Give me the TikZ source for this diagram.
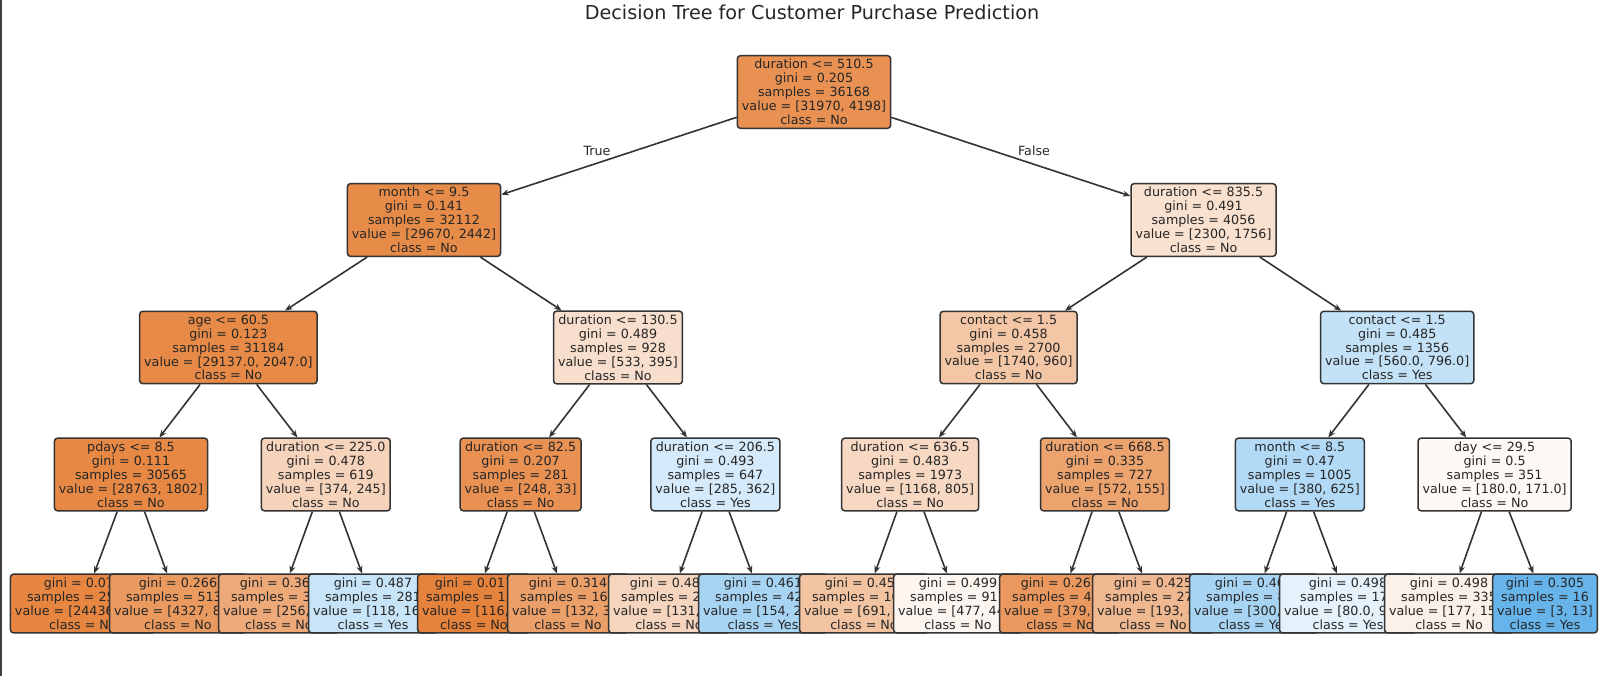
\documentclass[tikz,border=0pt]{standalone}
\usepackage{fontspec}
\setmainfont{DejaVu Sans}
\usetikzlibrary{arrows.meta}

\definecolor{clsno}{RGB}{229,129,57}
\definecolor{clsyes}{RGB}{57,157,229}
\definecolor{edgegray}{RGB}{51,51,51}

\tikzset{
  split/.style={draw=edgegray, line width=1.5pt, rounded corners=3pt, align=center,
    inner xsep=4.5pt, inner ysep=3.6pt, text=black!85,
    font=\fontsize{12.7}{13.9}\selectfont},
  branch/.style={draw=edgegray, line width=1.6pt, -{Stealth[length=7.5pt,width=6pt]}},
  side/.style={text=black!85, font=\fontsize{12.7}{13.9}\selectfont},
}

\begin{document}
\begin{tikzpicture}[x=1pt,y=-1pt]

  \useasboundingbox (0,0) rectangle (1600,676);
  \fill[black!75] (0,0) rectangle (2,676);

  \node[font=\fontsize{19.2}{22}\selectfont, text=black!85] (title) at (812,12.5) {Decision Tree for Customer Purchase Prediction};

  % root and splits
  \node[split, fill=clsno!87!white] (n0) at (814,92) {duration <= 510.5\\gini = 0.205\\samples = 36168\\value = [31970, 4198]\\class = No};

  \node[split, fill=clsno!92!white] (n1) at (424,220) {month <= 9.5\\gini = 0.141\\samples = 32112\\value = [29670, 2442]\\class = No};
  \node[split, fill=clsno!24!white] (n2) at (1203.5,220) {duration <= 835.5\\gini = 0.491\\samples = 4056\\value = [2300, 1756]\\class = No};

  \node[split, fill=clsno!93!white] (n3) at (228.4,347.5) {age <= 60.5\\gini = 0.123\\samples = 31184\\value = [29137.0, 2047.0]\\class = No};
  \node[split, fill=clsno!26!white] (n4) at (618,347.5) {duration <= 130.5\\gini = 0.489\\samples = 928\\value = [533, 395]\\class = No};
  \node[split, fill=clsno!45!white] (n5) at (1008.6,347.5) {contact <= 1.5\\gini = 0.458\\samples = 2700\\value = [1740, 960]\\class = No};
  \node[split, fill=clsyes!30!white] (n6) at (1397.2,347.5) {contact <= 1.5\\gini = 0.485\\samples = 1356\\value = [560.0, 796.0]\\class = Yes};

  \node[split, fill=clsno!94!white] (n7) at (131,474.5) {pdays <= 8.5\\gini = 0.111\\samples = 30565\\value = [28763, 1802]\\class = No};
  \node[split, fill=clsno!34!white] (n8) at (325.8,474.5) {duration <= 225.0\\gini = 0.478\\samples = 619\\value = [374, 245]\\class = No};
  \node[split, fill=clsno!87!white] (n9) at (520.6,474.5) {duration <= 82.5\\gini = 0.207\\samples = 281\\value = [248, 33]\\class = No};
  \node[split, fill=clsyes!21!white] (n10) at (715.4,474.5) {duration <= 206.5\\gini = 0.493\\samples = 647\\value = [285, 362]\\class = Yes};
  \node[split, fill=clsno!31!white] (n11) at (910.2,474.5) {duration <= 636.5\\gini = 0.483\\samples = 1973\\value = [1168, 805]\\class = No};
  \node[split, fill=clsno!73!white] (n12) at (1105,474.5) {duration <= 668.5\\gini = 0.335\\samples = 727\\value = [572, 155]\\class = No};
  \node[split, fill=clsyes!39!white] (n13) at (1299.8,474.5) {month <= 8.5\\gini = 0.47\\samples = 1005\\value = [380, 625]\\class = Yes};
  \node[split, fill=clsno!5!white] (n14) at (1494.6,474.5) {day <= 29.5\\gini = 0.5\\samples = 351\\value = [180.0, 171.0]\\class = No};

  % leaves, left to right (each one lies over the one before)
  \node[split, fill=clsno!96!white] (l1) at (83,603.5) {gini = 0.075\\samples = 25428\\value = [24436, 992]\\class = No};
  \node[split, fill=clsno!81!white] (l2) at (178,603.5) {gini = 0.266\\samples = 5137\\value = [4327, 810]\\class = No};
  \node[split, fill=clsno!68!white] (l3) at (279,603.5) {gini = 0.367\\samples = 338\\value = [256, 82]\\class = No};
  \node[split, fill=clsyes!28!white] (l4) at (373,603.5) {gini = 0.487\\samples = 281\\value = [118, 163]\\class = Yes};
  \node[split, fill=clsno!99!white] (l5) at (474,603.5) {gini = 0.017\\samples = 117\\value = [116, 1]\\class = No};
  \node[split, fill=clsno!76!white] (l6) at (568,603.5) {gini = 0.314\\samples = 164\\value = [132, 32]\\class = No};
  \node[split, fill=clsno!33!white] (l7) at (669,603.5) {gini = 0.481\\samples = 219\\value = [131, 88]\\class = No};
  \node[split, fill=clsyes!44!white] (l8) at (763,603.5) {gini = 0.461\\samples = 428\\value = [154, 274]\\class = Yes};
  \node[split, fill=clsno!47!white] (l9) at (864,603.5) {gini = 0.452\\samples = 1056\\value = [691, 365]\\class = No};
  \node[split, fill=clsno!8!white] (l10) at (958,603.5) {gini = 0.499\\samples = 917\\value = [477, 440]\\class = No};
  \node[split, fill=clsno!82!white] (l11) at (1060,603.5) {gini = 0.263\\samples = 449\\value = [379, 70]\\class = No};
  \node[split, fill=clsno!56!white] (l12) at (1153,603.5) {gini = 0.425\\samples = 278\\value = [193, 85]\\class = No};
  \node[split, fill=clsyes!44!white] (l13) at (1254,603.5) {gini = 0.461\\samples = 833\\value = [300, 533]\\class = Yes};
  \node[split, fill=clsyes!13!white] (l14) at (1348,603.5) {gini = 0.498\\samples = 172\\value = [80.0, 92.0]\\class = Yes};
  \node[split, fill=clsno!11!white] (l15) at (1449,603.5) {gini = 0.498\\samples = 335\\value = [177, 158]\\class = No};
  \node[split, fill=clsyes!77!white] (l16) at (1545,603.5) {gini = 0.305\\samples = 16\\value = [3, 13]\\class = Yes};

  \foreach \a/\b in {n0/n1,n0/n2,n1/n3,n1/n4,n2/n5,n2/n6,
                     n3/n7,n3/n8,n4/n9,n4/n10,n5/n11,n5/n12,n6/n13,n6/n14,
                     n7/l1,n7/l2,n8/l3,n8/l4,n9/l5,n9/l6,n10/l7,n10/l8,
                     n11/l9,n11/l10,n12/l11,n12/l12,n13/l13,n13/l14,n14/l15,n14/l16}
    \draw[branch] (\a) -- (\b);

  \node[side] (truelbl) at (597,151) {True};
  \node[side] (falselbl) at (1034,151) {False};

\end{tikzpicture}
\end{document}
